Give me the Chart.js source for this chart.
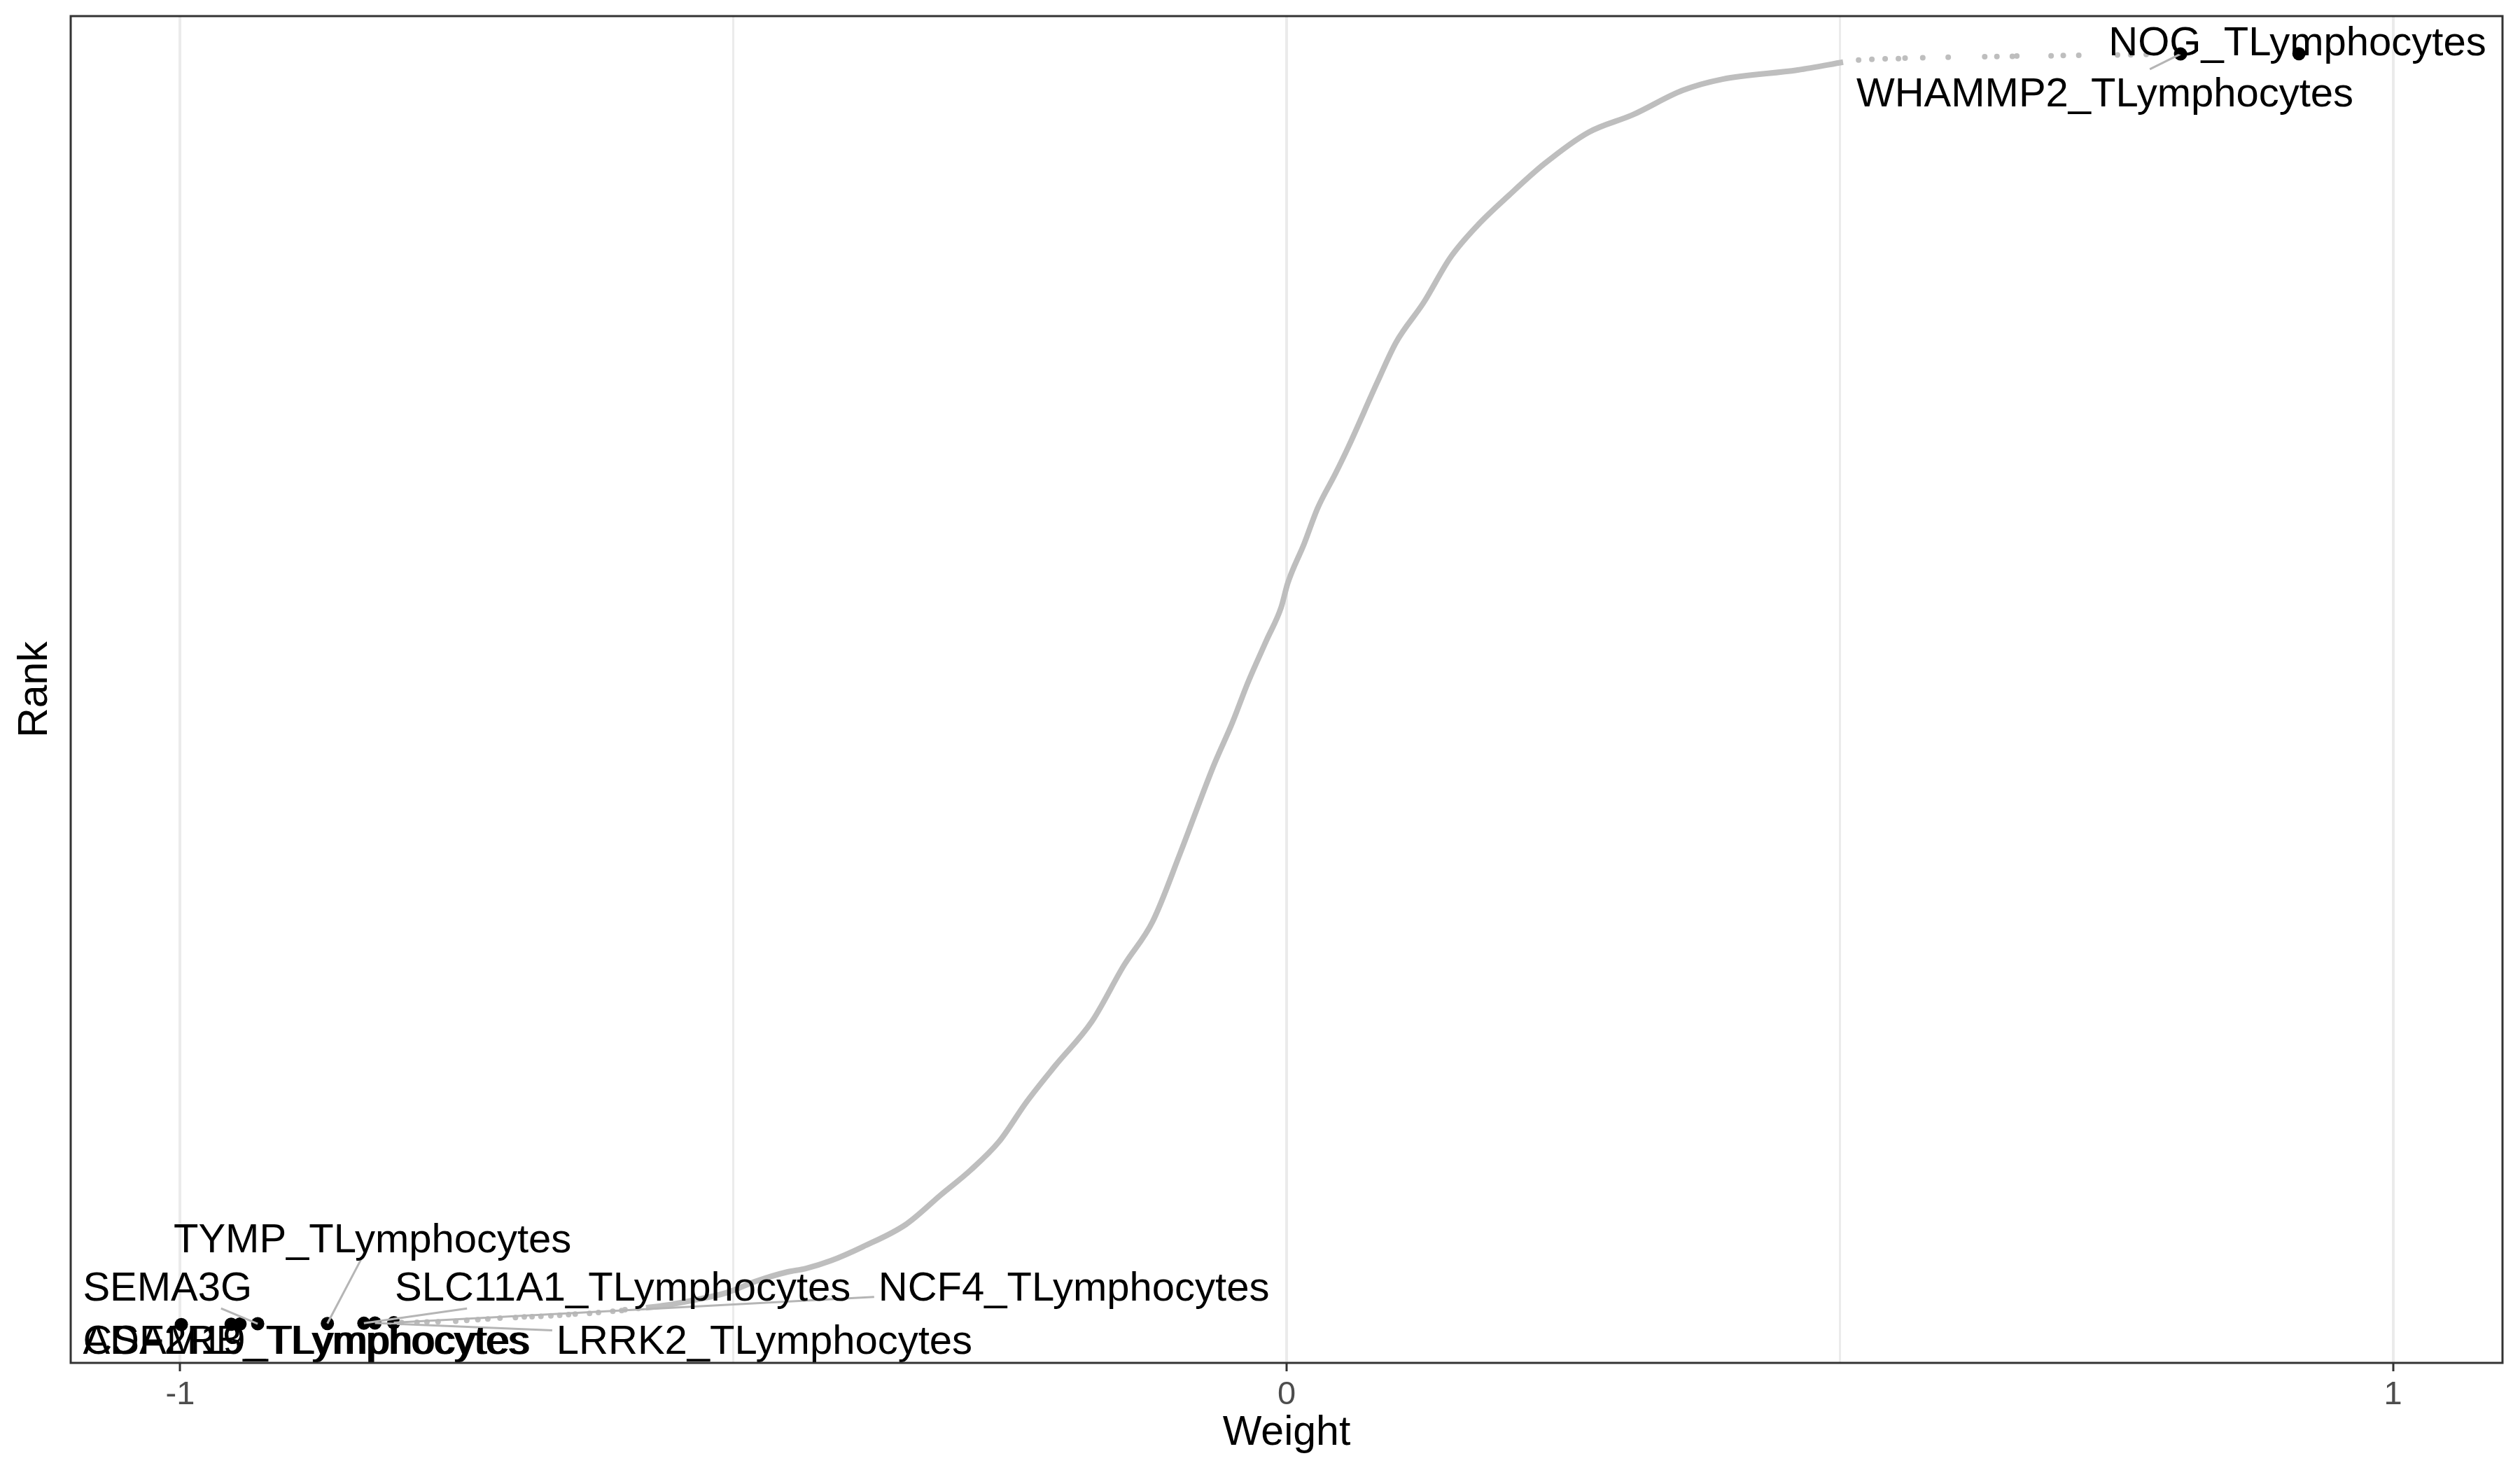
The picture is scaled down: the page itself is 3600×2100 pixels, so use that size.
<!DOCTYPE html>
<html>
<head>
<meta charset="utf-8">
<script src="https://cdn.jsdelivr.net/npm/chart.js@4.4.1/dist/chart.umd.min.js"></script>
<style>
  html, body { margin: 0; padding: 0; background: #fff; }
  canvas { display: block; }
</style>
</head>
<body>
<canvas id="rankChart" width="3600" height="2100"></canvas>
<script>
// x axis ticks
const weightTicks = [-1, -0.5, 0, 0.5, 1];
const tickLabels = ['-1', '', '0', '', '1'];

// dense part of the ranked weights (grey line)
const curveWeight = [-0.579, -0.564, -0.536, -0.507, -0.479, -0.451, -0.435, -0.412, -0.383, -0.344,
  -0.312, -0.286, -0.260, -0.235, -0.209, -0.176, -0.147, -0.121, -0.096, -0.066,
  -0.049, -0.035, -0.018, -0.005, 0.001, 0.016, 0.028, 0.044, 0.056, 0.082,
  0.099, 0.124, 0.148, 0.172, 0.201, 0.233, 0.273, 0.313, 0.358, 0.394, 0.462, 0.503];
const curveRank = [67, 75, 97, 125, 172, 208, 221, 252, 307, 395,
  513, 607, 720, 877, 1020, 1193, 1414, 1587, 1857, 2199,
  2369, 2526, 2694, 2821, 2917, 3074, 3212, 3347, 3455, 3708,
  3865, 4022, 4198, 4322, 4443, 4567, 4691, 4760, 4856, 4900, 4936, 4967];

// sparse ends, drawn as single grey dots
const lowTailWeight = [-0.800, -0.786, -0.777, -0.767, -0.751, -0.741, -0.731, -0.722, -0.711, -0.697,
  -0.689, -0.682, -0.674, -0.665, -0.657, -0.649, -0.643, -0.630, -0.622, -0.609, -0.601, -0.598, -0.586];
const lowTailRank = [9, 10, 11, 12, 14, 17, 20, 23, 26, 28, 31, 32, 33, 35, 37, 40, 42, 45, 48, 53, 56, 59, 64];
const highTailWeight = [0.517, 0.529, 0.541, 0.553, 0.559, 0.575, 0.598, 0.631, 0.642, 0.656,
  0.660, 0.691, 0.702, 0.716, 0.751, 0.763, 0.777];
const highTailRank = [4975, 4978, 4980, 4981, 4983, 4984, 4986, 4988, 4989, 4990,
  4991, 4992, 4993, 4994, 4995, 4996, 4997];

// labelled genes (black points)
const geneNames = ['CSF2RB_TLymphocytes', 'ADAM19_TLymphocytes', '', 'SEMA3G', 'TYMP_TLymphocytes',
  'SLC11A1_TLymphocytes', 'LRRK2_TLymphocytes', 'NCF4_TLymphocytes', 'WHAMMP2_TLymphocytes', 'NOG_TLymphocytes'];
const geneWeight = [-0.999, -0.954, -0.946, -0.930, -0.867, -0.834, -0.824, -0.807, 0.808, 0.915];
const geneRank = [1, 2, 3, 4, 5, 6, 7, 8, 4999, 5000];

// where the repelled text sits (left edge, middle), in axis units
const labelAtWeight = [-1.088, -1.088, 0, -1.088, -1.006, -0.806, -0.660, -0.369, 0.515, 0.743];
const labelAtRank = [-57, -57, 0, 152, 343, 152, -57, 152, 4851, 5052];

const FONT = "'Liberation Sans', Arial, Helvetica, sans-serif";

const toPts = (xs, ys) => xs.map((x, i) => ({ x: x, y: ys[i] }));

// text placed by cap-height middle
function capText(ctx, txt, x, cy, size) {
  ctx.font = size + 'px ' + FONT;
  ctx.textBaseline = 'alphabetic';
  ctx.fillText(txt, x, cy + size * 0.358);
}

const repelLabels = {
  id: 'repelLabels',
  afterDatasetsDraw(chart) {
    const ctx = chart.ctx;
    const xs = chart.scales.x, ys = chart.scales.y;
    const fs = 58;
    ctx.save();
    ctx.font = fs + 'px ' + FONT;
    geneNames.forEach((name, i) => {
      if (!name) return;
      const px = xs.getPixelForValue(geneWeight[i]);
      const py = ys.getPixelForValue(geneRank[i]);
      const lx = xs.getPixelForValue(labelAtWeight[i]);
      const ly = ys.getPixelForValue(labelAtRank[i]);
      const w = ctx.measureText(name).width;
      const x0 = lx - 6, x1 = lx + w + 6, y0 = ly - fs * 0.55, y1 = ly + fs * 0.55;
      const cx = (x0 + x1) / 2, cy = ly;
      if (px >= x0 && px <= x1 && py >= y0 && py <= y1) return;
      let tx = 0, ty = 0;
      if (px < x0) tx = (x0 - px) / (cx - px);
      if (px > x1) tx = (x1 - px) / (cx - px);
      if (py < y0) ty = (y0 - py) / (cy - py);
      if (py > y1) ty = (y1 - py) / (cy - py);
      const t = Math.max(tx, ty);
      const ex = px + t * (cx - px), ey = py + t * (cy - py);
      if (Math.hypot(ex - px, ey - py) < 15) return;
      ctx.strokeStyle = '#b5b5b5';
      ctx.lineWidth = 3;
      ctx.beginPath();
      ctx.moveTo(px, py);
      ctx.lineTo(ex, ey);
      ctx.stroke();
    });
    ctx.fillStyle = '#000';
    geneNames.forEach((name, i) => {
      if (!name) return;
      capText(ctx, name, xs.getPixelForValue(labelAtWeight[i]), ys.getPixelForValue(labelAtRank[i]), fs);
    });
    ctx.restore();
  },
  afterDraw(chart) {
    const ctx = chart.ctx, a = chart.chartArea;
    ctx.save();
    ctx.strokeStyle = '#333333';
    ctx.lineWidth = 3;
    ctx.strokeRect(a.left, a.top, a.right - a.left, a.bottom - a.top);
    ctx.fillStyle = '#000';
    ctx.textAlign = 'center';
    capText(ctx, 'Weight', (a.left + a.right) / 2, 2043, 59);
    ctx.translate(46, (a.top + a.bottom) / 2);
    ctx.rotate(-Math.PI / 2);
    capText(ctx, 'Rank', 0, 0, 59);
    ctx.restore();
  }
};

const ctx = document.getElementById('rankChart').getContext('2d');
new Chart(ctx, {
  type: 'scatter',
  data: {
    datasets: [
      {
        data: toPts(curveWeight, curveRank),
        showLine: true,
        borderColor: '#bebebe',
        borderWidth: 8,
        pointRadius: 0,
        cubicInterpolationMode: 'monotone'
      },
      {
        data: toPts(lowTailWeight, lowTailRank).concat(toPts(highTailWeight, highTailRank)),
        backgroundColor: '#bebebe',
        borderWidth: 0,
        pointRadius: 4
      },
      {
        data: toPts(geneWeight, geneRank),
        backgroundColor: '#000000',
        borderWidth: 0,
        pointRadius: 9.5
      }
    ]
  },
  options: {
    responsive: false,
    devicePixelRatio: 1,
    animation: false,
    events: [],
    layout: { padding: { top: 23, right: 25, left: 0, bottom: 0 } },
    plugins: {
      legend: { display: false },
      tooltip: { enabled: false }
    },
    scales: {
      x: {
        type: 'linear',
        min: -1.099,
        max: 1.099,
        afterBuildTicks: s => { s.ticks = weightTicks.map(v => ({ value: v })); },
        afterFit: s => { s.height = 153; },
        border: { display: false },
        grid: {
          color: '#ebebeb',
          lineWidth: c => (Number.isInteger(c.tick.value) ? 4 : 3),
          tickLength: 12,
          tickWidth: 3,
          tickColor: c => (Number.isInteger(c.tick.value) ? '#333333' : 'rgba(0,0,0,0)')
        },
        ticks: {
          autoSkip: false,
          maxRotation: 0,
          padding: 6,
          color: '#4d4d4d',
          font: { family: FONT, size: 47 },
          callback: (v, i) => tickLabels[i]
        }
      },
      y: {
        type: 'linear',
        min: -150,
        max: 5148,
        afterFit: s => { s.width = 101; },
        border: { display: false },
        grid: { display: false },
        ticks: { display: false }
      }
    }
  },
  plugins: [repelLabels]
});
</script>
</body>
</html>
